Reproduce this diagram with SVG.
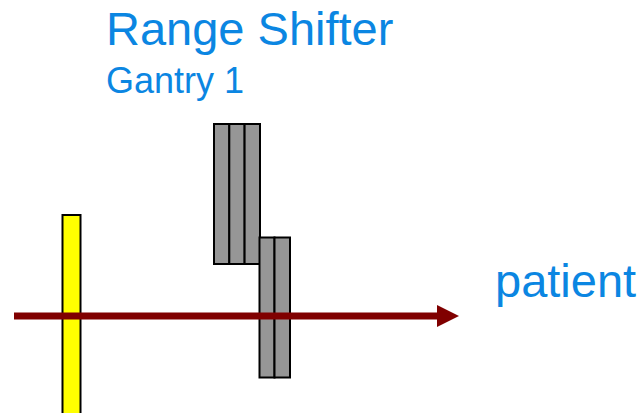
<svg xmlns="http://www.w3.org/2000/svg" width="644" height="413" viewBox="0 0 644 413">
<style>
.t{font-family:"Liberation Sans",Arial,sans-serif;fill:#0B86E2}
.plate{fill:#969696;stroke:#000;stroke-width:2}
.yel{fill:#FFFF00;stroke:#000;stroke-width:2}
</style>
<defs>
<marker id="ah" markerUnits="userSpaceOnUse" markerWidth="22" markerHeight="22" refX="0" refY="11" orient="auto">
<path d="M0,0 L22,11 L0,22 Z" fill="#800000"/>
</marker>
</defs>
<rect width="644" height="413" fill="#fff"/>
<g id="title">
<text class="t" x="106" y="45" font-size="47">Range Shifter</text>
<text class="t" x="106" y="93" font-size="36">Gantry 1</text>
</g>
<g id="patient-label">
<text class="t" x="495" y="297" font-size="47">patient</text>
</g>
<g id="yellow-plate">
<rect class="yel" x="62.5" y="215" width="18" height="210"/>
</g>
<g id="shifter-upper">
<rect class="plate" x="214" y="124" width="15.3" height="140"/>
<rect class="plate" x="229.3" y="124" width="15.3" height="140"/>
<rect class="plate" x="244.6" y="124" width="15.4" height="140"/>
</g>
<g id="shifter-lower">
<rect class="plate" x="259.5" y="237.5" width="15" height="140"/>
<rect class="plate" x="274.5" y="237.5" width="15.5" height="140"/>
</g>
<g id="connectors">
<line x1="14" y1="316" x2="437" y2="316" stroke="#800000" stroke-width="7" marker-end="url(#ah)"/>
</g>
</svg>
